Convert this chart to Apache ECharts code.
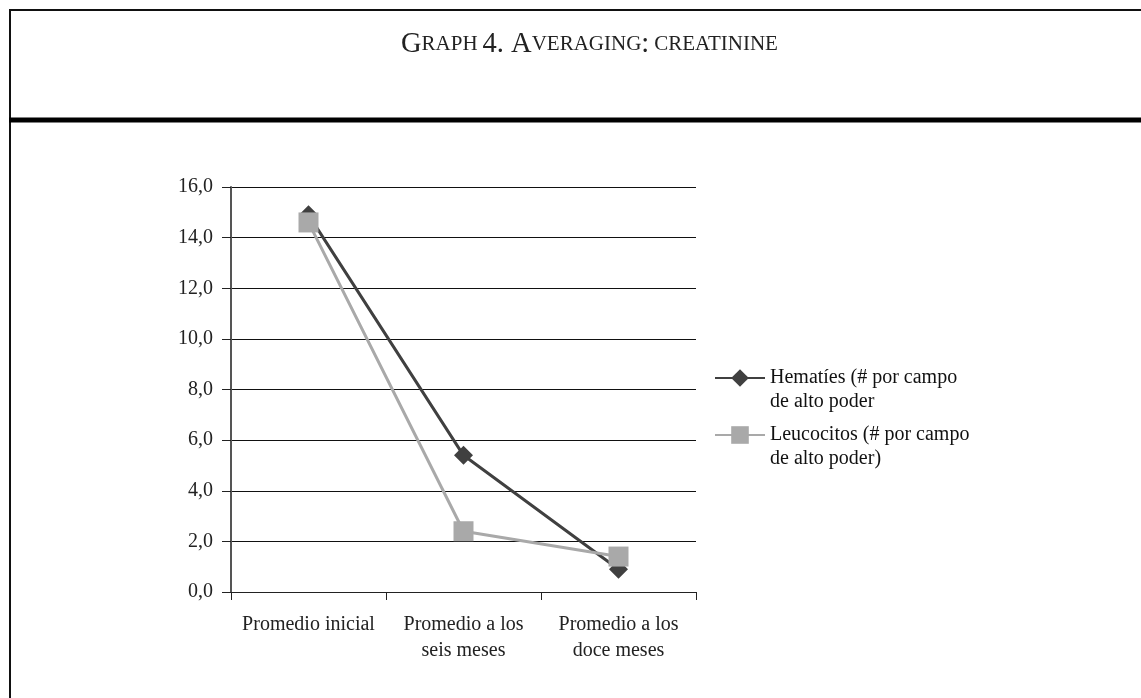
<!DOCTYPE html>
<html>
<head>
<meta charset="utf-8">
<script src="https://cdn.jsdelivr.net/npm/echarts@6/dist/echarts.min.js"></script>
<style>
  html, body { margin: 0; padding: 0; background: #fff; }
  #chart { width: 1141px; height: 698px; }
</style>
</head>
<body>
<div id="chart"></div>
<script>
// data
var categories = ["Promedio inicial", "Promedio a los\nseis meses", "Promedio a los\ndoce meses"];
var hematies = [14.9, 5.4, 0.9];
var leucocitos = [14.6, 2.4, 1.4];
var seriesNames = ["Hematíes (# por campo\nde alto poder", "Leucocitos (# por campo\nde alto poder)"];

var serif = "'Liberation Serif', 'DejaVu Serif', serif";
var myChart = echarts.init(document.getElementById("chart"));

// blank first line so the icon sits next to the first text line
var legendFormatter = function (name) {
    return " \n" + name;
};
var legendText = {
    fontFamily: serif,
    fontSize: 20,
    color: "#111",
    lineHeight: 24
};

myChart.setOption({
    animation: false,
    title: {
        text: "{b|G}{s|RAPH} {b|4. A}{s|VERAGING}{b|:} {s|CREATININE}",
        left: 396,
        top: 25,
        textStyle: {
            rich: {
                b: { fontFamily: serif, fontSize: 28.5, fontWeight: "normal", color: "#222" },
                s: { fontFamily: serif, fontSize: 21, fontWeight: "normal", color: "#222" }
            }
        }
    },
    graphic: [
        { type: "line", shape: { x1: 9, y1: 10, x2: 1141, y2: 10 }, style: { stroke: "#111", lineWidth: 2 } },
        { type: "line", shape: { x1: 10, y1: 10, x2: 10, y2: 698 }, style: { stroke: "#111", lineWidth: 2 } },
        { type: "line", shape: { x1: 9, y1: 120, x2: 1141, y2: 120 }, style: { stroke: "#000", lineWidth: 5 } }
    ],
    legend: [
        {
            data: [seriesNames[0]],
            left: 714,
            top: 342,
            padding: 0,
            itemWidth: 50,
            itemHeight: 22,
            formatter: legendFormatter,
            textStyle: legendText
        },
        {
            data: [seriesNames[1]],
            left: 714,
            top: 399,
            padding: 0,
            itemWidth: 50,
            itemHeight: 22,
            formatter: legendFormatter,
            textStyle: legendText
        }
    ],
    grid: {
        left: 231,
        right: 445,
        top: 187,
        bottom: 106
    },
    xAxis: {
        type: "category",
        boundaryGap: true,
        data: categories,
        axisLine: { lineStyle: { color: "#222", width: 1 } },
        axisTick: { show: true, length: 8, lineStyle: { color: "#222" } },
        axisLabel: {
            interval: 0,
            hideOverlap: false,
            fontFamily: serif,
            fontSize: 20,
            color: "#222",
            lineHeight: 26,
            margin: 20
        }
    },
    yAxis: {
        type: "value",
        min: 0,
        max: 16,
        interval: 2,
        axisLine: { show: true, lineStyle: { color: "#555", width: 2 } },
        axisTick: { show: true, length: 9, lineStyle: { color: "#222" } },
        splitLine: { lineStyle: { color: "#111", width: 1 } },
        axisLabel: {
            fontFamily: serif,
            fontSize: 20,
            color: "#222",
            margin: 18,
            formatter: function (v) {
                return v.toFixed(1).replace(".", ",");
            }
        }
    },
    series: [
        {
            name: seriesNames[0],
            type: "line",
            data: hematies,
            symbol: "diamond",
            symbolSize: 19,
            itemStyle: { color: "#404040" },
            lineStyle: { color: "#404040", width: 3 },
            z: 2
        },
        {
            name: seriesNames[1],
            type: "line",
            data: leucocitos,
            symbol: "rect",
            symbolSize: 20,
            itemStyle: { color: "#a9a9a9" },
            lineStyle: { color: "#a9a9a9", width: 3 },
            z: 3
        }
    ]
});
</script>
</body>
</html>
